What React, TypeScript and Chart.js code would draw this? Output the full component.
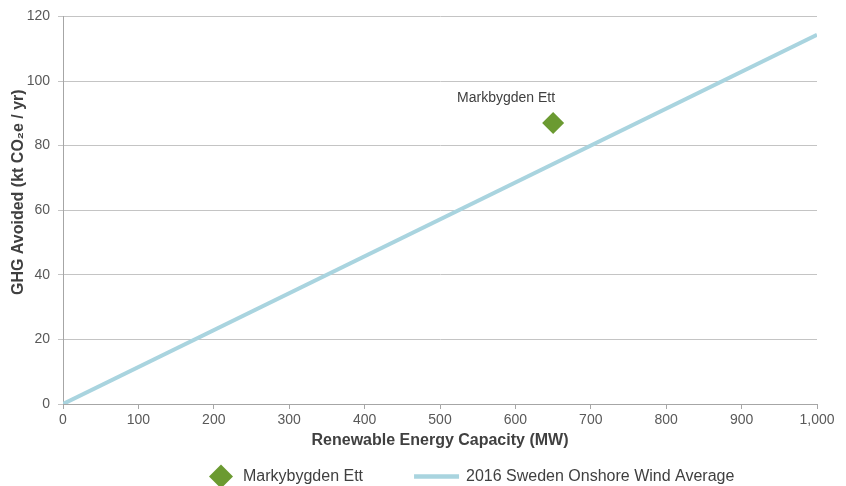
import React, { useEffect, useRef } from 'react';
import { Chart, registerables } from 'chart.js';

Chart.register(...registerables);

// ---- data ----
const projectNames = ['Markbygden Ett'];
const projectLegendLabel = 'Markybygden Ett';
const projectCapacityMW = [650];
const projectGhgAvoided = [87];

const averageLegendLabel = '2016 Sweden Onshore Wind Average';
const averageCapacityMW = [0, 1000];
const averageGhgAvoided = [0, 114.3];

const xAxisTitle = 'Renewable Energy Capacity (MW)';
const yAxisTitle = 'GHG Avoided (kt CO\u2082e / yr)';
const xMin = 0, xMax = 1000, xStep = 100;
const yMin = 0, yMax = 120, yStep = 20;

const FONT = "'Liberation Sans', Arial, Helvetica, sans-serif";
const GREEN = '#6b9a31';
const BLUE = '#a9d4df';
const GRID = '#c4c4c4';
const AXIS = '#a6a6a6';
const TICK_TEXT = '#595959';
const DARK_TEXT = '#404040';

const pointLabelPlugin = {
  id: 'pointLabel',
  afterDatasetsDraw(chart: any) {
    const meta = chart.getDatasetMeta(0);
    const ctx = chart.ctx;
    ctx.save();
    ctx.font = `14px ${FONT}`;
    ctx.fillStyle = DARK_TEXT;
    ctx.textAlign = 'right';
    ctx.textBaseline = 'middle';
    meta.data.forEach((el: any, i: number) => {
      ctx.fillText(projectNames[i], el.x + 2, el.y - 25);
    });
    ctx.restore();
  },
};

// y-axis title, placed as in the reference (slightly above the plot's centre)
const yTitlePlugin = {
  id: 'yTitle',
  afterDraw(chart: any) {
    const ctx = chart.ctx;
    const area = chart.chartArea;
    ctx.save();
    ctx.font = `bold 16px ${FONT}`;
    ctx.fillStyle = DARK_TEXT;
    ctx.textAlign = 'center';
    ctx.textBaseline = 'middle';
    ctx.translate(19, (area.top + area.bottom) / 2 - 18);
    ctx.rotate(-Math.PI / 2);
    ctx.fillText(yAxisTitle, 0, 0);
    ctx.restore();
  },
};

const customLegendPlugin = {
  id: 'customLegend',
  afterDraw(chart: any) {
    const ctx = chart.ctx;
    const ds = chart.data.datasets;
    const y = 476.5;
    ctx.save();
    ctx.font = `16px ${FONT}`;
    ctx.textBaseline = 'middle';
    ctx.textAlign = 'left';
    let x = chart.chartArea.left + 146;
    // diamond item
    const r = 12;
    ctx.fillStyle = ds[0].backgroundColor;
    ctx.beginPath();
    ctx.moveTo(x, y);
    ctx.lineTo(x + r, y - r);
    ctx.lineTo(x + 2 * r, y);
    ctx.lineTo(x + r, y + r);
    ctx.closePath();
    ctx.fill();
    x += 2 * r + 10;
    ctx.fillStyle = DARK_TEXT;
    ctx.fillText(ds[0].label, x, y);
    x += ctx.measureText(ds[0].label).width + 51;
    // line item
    ctx.strokeStyle = ds[1].borderColor;
    ctx.lineWidth = 4.5;
    ctx.beginPath();
    ctx.moveTo(x, y);
    ctx.lineTo(x + 45, y);
    ctx.stroke();
    x += 45 + 7;
    ctx.fillStyle = DARK_TEXT;
    ctx.fillText(ds[1].label, x, y);
    ctx.restore();
  },
};

export default function App() {
  const canvasRef = useRef<HTMLCanvasElement | null>(null);

  useEffect(() => {
    if (!canvasRef.current) return;
    const chart = new Chart(canvasRef.current, {
      type: 'scatter',
      data: {
        datasets: [
          {
            type: 'scatter',
            label: projectLegendLabel,
            data: projectCapacityMW.map((x, i) => ({ x, y: projectGhgAvoided[i] })),
            backgroundColor: GREEN,
            borderColor: GREEN,
            borderWidth: 0,
            pointStyle: 'rectRot',
            pointRadius: 11,
            pointHoverRadius: 11,
          },
          {
            type: 'line',
            label: averageLegendLabel,
            data: averageCapacityMW.map((x, i) => ({ x, y: averageGhgAvoided[i] })),
            borderColor: BLUE,
            backgroundColor: BLUE,
            borderWidth: 4,
            pointRadius: 0,
            fill: false,
            tension: 0,
          },
        ],
      } as any,
      options: {
        animation: false,
        responsive: true,
        maintainAspectRatio: false,
        layout: { padding: { left: 0, right: 29, top: 16, bottom: 36 } },
        plugins: {
          legend: { display: false },
          tooltip: { enabled: false },
        },
        scales: {
          x: {
            type: 'linear',
            min: xMin,
            max: xMax,
            afterFit: (s: any) => { s.height = 46; },
            ticks: {
              stepSize: xStep,
              color: TICK_TEXT,
              font: { family: FONT, size: 14 },
              padding: 3,
              maxRotation: 0,
              callback: (v: any) => Number(v).toLocaleString('en-US'),
            },
            grid: {
              display: true,
              drawOnChartArea: false,
              drawTicks: true,
              tickLength: 5,
              color: AXIS,
            },
            border: { display: true, color: AXIS, width: 1 },
            title: {
              display: true,
              text: xAxisTitle,
              color: DARK_TEXT,
              font: { family: FONT, size: 16, weight: 'bold' },
              padding: { top: 0, bottom: 0 },
            },
          },
          y: {
            type: 'linear',
            min: yMin,
            max: yMax,
            afterFit: (s: any) => { s.width = 63; },
            ticks: {
              stepSize: yStep,
              color: TICK_TEXT,
              font: { family: FONT, size: 14 },
              padding: 8,
            },
            grid: {
              color: GRID,
              drawTicks: true,
              tickLength: 5,
            },
            border: { display: true, color: AXIS, width: 1 },
            title: { display: false },
          },
        },
      } as any,
      plugins: [pointLabelPlugin, yTitlePlugin, customLegendPlugin],
    });
    return () => chart.destroy();
  }, []);

  return (
    <div style={{ position: 'fixed', left: 0, top: 0, width: 846, height: 486, background: '#ffffff' }}>
      <canvas ref={canvasRef} />
    </div>
  );
}
